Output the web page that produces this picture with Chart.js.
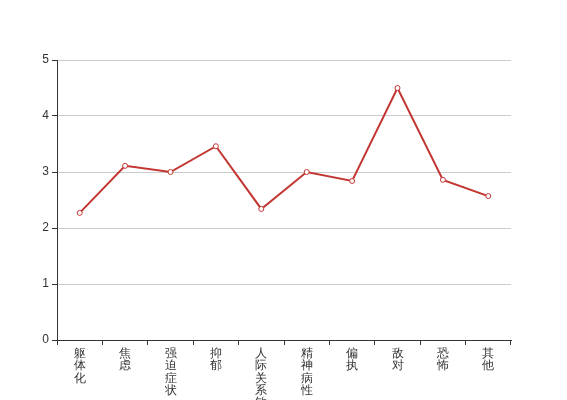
<!DOCTYPE html>
<html>
<head>
<meta charset="utf-8">
<script src="https://cdn.jsdelivr.net/npm/chart.js@4/dist/chart.umd.min.js"></script>
<style>
  html, body { margin: 0; padding: 0; background: #fff; }
  #wrap { width: 567px; height: 400px; }
</style>
</head>
<body>
<div id="wrap"><canvas id="lineChart" width="567" height="400"></canvas></div>
<script>
// 因子名称 and mean scores
const categories = ['躯体化', '焦虑', '强迫症状', '抑郁', '人际关系敏感', '精神病性', '偏执', '敌对', '恐怖', '其他'];
const scores = [2.27, 3.11, 3.0, 3.46, 2.34, 3.0, 2.84, 4.5, 2.86, 2.57];
const yTicks = [0, 1, 2, 3, 4, 5];

(function () {
  const ctx = document.getElementById('lineChart');
  if (!ctx) return;

  // stack characters vertically
  const labels = categories.map(c => c.split(''));

  new Chart(ctx, {
    type: 'line',
    data: {
      labels: labels,
      datasets: [{
        data: scores,
        borderColor: '#c23531',
        borderWidth: 2,
        pointRadius: 2.5,
        pointHoverRadius: 3,
        pointBorderWidth: 1,
        pointBackgroundColor: '#fff',
        pointBorderColor: '#c23531',
        tension: 0,
        fill: false
      }]
    },
    options: {
      responsive: false,
      animation: false,
      layout: { padding: { top: 60, right: 56, left: 0, bottom: 0 } },
      plugins: { legend: { display: false }, tooltip: { enabled: false } },
      scales: {
        x: {
          offset: true,
          grid: { offset: true, drawOnChartArea: false, tickLength: 5, color: '#333', tickColor: '#333' },
          border: { color: '#333', width: 1 },
          ticks: {
            autoSkip: false, maxRotation: 0, minRotation: 0, padding: 2,
            color: '#333', font: { size: 12, family: 'sans-serif', lineHeight: 1.04 }
          },
          afterFit: s => { s.height = 60; }
        },
        y: {
          min: yTicks[0],
          max: yTicks[yTicks.length - 1],
          afterBuildTicks: s => { s.ticks = yTicks.map(v => ({ value: v })); },
          grid: { color: '#ccc', tickColor: '#333', tickLength: 5 },
          border: { color: '#333', width: 1 },
          ticks: { color: '#333', padding: 3, font: { size: 12, family: 'sans-serif' } },
          afterFit: s => { s.width = 57; }
        }
      }
    }
  });
})();
</script>
</body>
</html>
